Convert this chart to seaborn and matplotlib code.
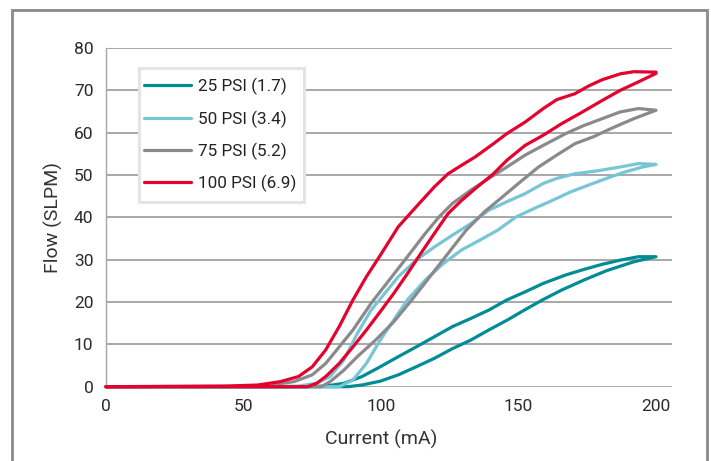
import numpy as np
import pandas as pd
import matplotlib
matplotlib.use("Agg")
import matplotlib.pyplot as plt
import seaborn as sns
from matplotlib.patches import Rectangle
from matplotlib.lines import Line2D

# ---------------- data ----------------
series_names = ["25 PSI (1.7)", "50 PSI (3.4)", "75 PSI (5.2)", "100 PSI (6.9)"]

# 25 PSI: rising-current branch, then falling-current branch
psi25_up_x = [0, 88, 93.1, 99.7, 106.3, 112.8, 119.4, 126, 132.6, 139.2, 145.8, 152.4, 159, 165.6, 173.8, 182, 191.9, 200]
psi25_up_y = [0, 0, 0.4, 1.3, 2.8, 4.7, 6.7, 9.0, 11.0, 13.4, 15.7, 18.2, 20.6, 22.8, 25.2, 27.4, 29.5, 30.7]
psi25_dn_x = [200, 193.6, 187, 180.4, 173.8, 167.2, 159, 152.4, 145.8, 139.2, 132.6, 126, 119.4, 112.8, 106.3, 99.7, 93.1, 86.5, 79.9, 70, 0]
psi25_dn_y = [30.7, 30.7, 29.9, 28.9, 27.7, 26.4, 24.4, 22.4, 20.5, 18.1, 16.1, 14.2, 11.8, 9.4, 7.1, 4.7, 2.4, 0.8, 0.15, 0, 0]

# 50 PSI
psi50_up_x = [0, 84.8, 89.8, 94.7, 99.7, 104.6, 109.6, 116.1, 122.7, 129.3, 135.9, 142.5, 149.1, 155.7, 162.3, 168.9, 175.4, 182, 188.6, 195.2, 200]
psi50_up_y = [0, 0, 1.6, 5.5, 11.0, 15.7, 20.5, 25.2, 29.1, 32.3, 34.6, 37.0, 40.1, 42.1, 44.0, 46.0, 47.6, 49.2, 50.7, 51.9, 52.5]
psi50_dn_x = [200, 193.6, 187, 178.8, 170.5, 163.9, 159, 152.4, 145.8, 139.2, 132.6, 126, 119.4, 112.8, 106.3, 101.3, 96.4, 91.4, 86.5, 81.5, 76.6, 70, 60, 0]
psi50_dn_y = [52.5, 52.7, 51.9, 51.0, 50.3, 49.2, 48.0, 45.6, 43.7, 41.7, 38.5, 35.8, 33.0, 29.9, 26.0, 22.0, 18.1, 12.6, 6.3, 2.4, 0.8, 0.15, 0.05, 0]

# 75 PSI
psi75_up_x = [0, 78.3, 81.5, 86.5, 91.4, 98, 104.6, 111.2, 117.8, 124.4, 131, 137.6, 144.1, 150.7, 157.3, 163.9, 170.5, 177.1, 183.7, 191.9, 200]
psi75_up_y = [0, 0, 1.2, 3.9, 7.1, 11.0, 15.3, 20.5, 26.0, 31.5, 37.0, 41.3, 44.8, 48.4, 51.9, 54.7, 57.4, 59.0, 61.0, 63.3, 65.3]
psi75_dn_x = [200, 193.6, 187, 180.4, 173.8, 167.2, 159, 152.4, 145.8, 139.2, 132.6, 126, 121.1, 116.1, 109.6, 103, 96.4, 89.8, 84.8, 79.9, 75, 68.4, 60.1, 48.6, 0]
psi75_dn_y = [65.3, 65.7, 64.9, 63.3, 61.7, 59.8, 57.0, 54.7, 51.9, 49.2, 46.4, 43.3, 40.1, 36.2, 30.7, 25.2, 19.7, 13.4, 9.4, 5.5, 2.8, 1.2, 0.4, 0.1, 0]

# 100 PSI
psi100_up_x = [0, 73.3, 76.6, 79.9, 84.8, 89.8, 94.7, 99.7, 104.6, 109.6, 114.5, 119.4, 124.4, 129.3, 134.3, 140.9, 145.8, 152.4, 159, 165.6, 172.2, 180.4, 187, 193.6, 200]
psi100_up_y = [0, 0, 0.8, 2.4, 5.5, 9.4, 13.4, 17.7, 22.0, 26.7, 31.5, 36.2, 40.9, 44.0, 46.8, 50.3, 53.5, 57.0, 59.4, 62.1, 64.5, 67.6, 70.0, 72.0, 74.0]
psi100_dn_x = [200, 191.9, 187, 180.4, 175.4, 170.5, 163.9, 159, 152.4, 145.8, 140.9, 134.3, 129.3, 124.4, 119.4, 112.8, 106.3, 99.7, 94.7, 89.8, 84.8, 79.9, 75, 70, 63.4, 55.2, 43.7, 0]
psi100_dn_y = [74.3, 74.4, 73.9, 72.5, 71.0, 69.2, 67.8, 65.7, 62.5, 59.8, 57.4, 54.3, 52.3, 50.3, 47.2, 42.5, 37.8, 31.0, 26.0, 20.5, 14.2, 8.7, 4.7, 2.4, 1.2, 0.4, 0.15, 0]

x_ticks = [0, 50, 100, 150, 200]
y_ticks = [0, 10, 20, 30, 40, 50, 60, 70, 80]

colors = ["#008C95", "#76C6D6", "#8A8A8D", "#E4032E"]

# ---------------- build long-form table ----------------
loops = [
    (psi25_up_x + psi25_dn_x, psi25_up_y + psi25_dn_y),
    (psi50_up_x + psi50_dn_x, psi50_up_y + psi50_dn_y),
    (psi75_up_x + psi75_dn_x, psi75_up_y + psi75_dn_y),
    (psi100_up_x + psi100_dn_x, psi100_up_y + psi100_dn_y),
]
frames = []
for name, (xs, ys) in zip(series_names, loops):
    frames.append(pd.DataFrame({"Current": xs, "Flow": ys, "Series": name,
                                "order": np.arange(len(xs))}))
df = pd.concat(frames, ignore_index=True)

# ---------------- figure ----------------
sns.set_theme(style="white")
plt.rcParams["font.family"] = ["Roboto", "DejaVu Sans"]

fig = plt.figure(figsize=(7.11, 4.61), dpi=100)
W, H = 711, 461
ax = fig.add_axes([106 / W, 1 - 386.7 / H, (671.7 - 106) / W, (386.7 - 48) / H])

sns.lineplot(data=df, x="Current", y="Flow", hue="Series", hue_order=series_names,
             palette=colors, sort=False, estimator=None, linewidth=2.3,
             legend=False, ax=ax)
for ln in ax.get_lines():
    ln.set_solid_joinstyle("round")
    ln.set_solid_capstyle("round")
    ln.set_clip_on(False)
    ln.set_zorder(3)

ax.set_xlim(0, 205.7)
ax.set_ylim(0, 80)
ax.set_xticks(x_ticks)
ax.set_yticks(y_ticks)
ax.grid(axis="y", color="#9a9a9a", linewidth=1.2)
ax.grid(axis="x", visible=False)
ax.set_axisbelow(True)
for s in ["top", "right", "bottom"]:
    ax.spines[s].set_visible(False)
ax.spines["left"].set_color("#a8a8a8")
ax.spines["left"].set_linewidth(1.0)
ax.tick_params(axis="both", length=0, labelsize=12.5, labelcolor="#2a2a2a")
ax.tick_params(axis="y", pad=9)
ax.tick_params(axis="x", pad=9)
ax.set_xlabel("Current (mA)", fontsize=14, color="#333333", labelpad=6)
ax.set_ylabel("Flow (SLPM)", fontsize=14, color="#333333", labelpad=8)
ax.xaxis.set_label_coords(100 / 205.7, -0.128)

# legend box
box = Rectangle((138.6 / W, 1 - 202 / H), (303.6 - 138.6) / W, (202 - 68) / H,
                transform=fig.transFigure, facecolor="white", edgecolor="#e4e4e4",
                linewidth=2.2, zorder=5)
fig.add_artist(box)

handles = [Line2D([0], [0], color=c, linewidth=2.3) for c in colors]
leg = fig.legend(handles, series_names, loc="upper left",
                 bbox_to_anchor=(144 / W, 1 - 78 / H), frameon=False,
                 fontsize=12.3, handlelength=2.75, handletextpad=0.4,
                 labelspacing=0.88, borderpad=0, borderaxespad=0)
leg.set_zorder(6)
for t in leg.get_texts():
    t.set_color("#222222")

# outer frame
frame = Rectangle((12 / W, -0.05), (706.5 - 12) / W, 1 - 10 / H + 0.05,
                  transform=fig.transFigure, facecolor="none", edgecolor="#8a8a8a",
                  linewidth=2.0, zorder=0, clip_on=False)
fig.add_artist(frame)

fig.savefig("out.png", dpi=100)
